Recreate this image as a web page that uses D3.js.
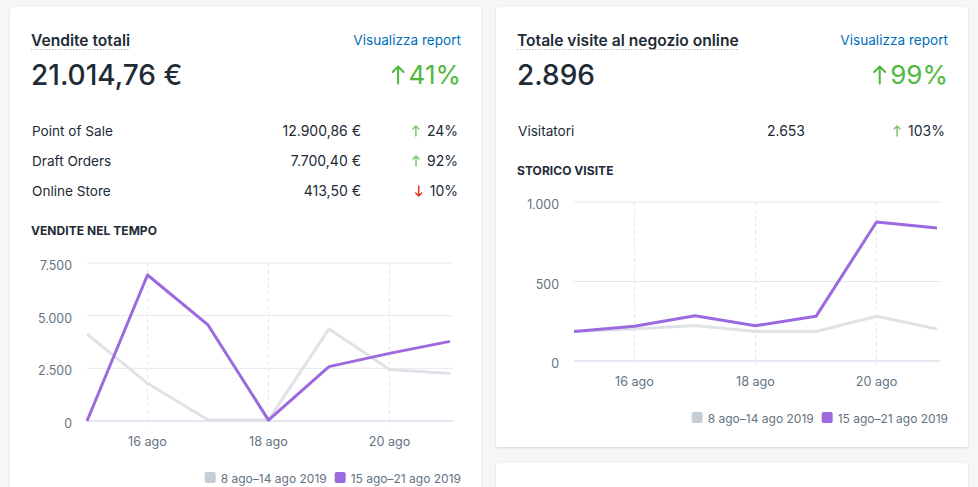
<!DOCTYPE html>
<html><head><meta charset="utf-8">
<script src="https://cdn.jsdelivr.net/npm/d3@7"></script>
<style>
html,body{margin:0;padding:0;background:#f4f6f8;}
svg{display:block;font-family:Inter,"Noto Sans",sans-serif;}
</style></head>
<body>
<svg id="c" width="978" height="487"></svg>
<script>
// ---- data ----
const days = [15, 16, 17, 18, 19, 20, 21];
const tickDays = [16, 18, 20];
const tickLabels = ["16 ago", "18 ago", "20 ago"];
const legendLabels = ["8 ago–14 ago 2019", "15 ago–21 ago 2019"];

const salesPrev = [4130, 1790, 50, 50, 4370, 2450, 2260];
const salesCurr = [0, 6930, 4560, 40, 2580, 3210, 3780];
const salesTicks = [0, 2500, 5000, 7500];

const visitsPrev = [186, 201, 224, 186, 186, 281, 201];
const visitsCurr = [186, 218, 285, 222, 281, 874, 836];
const visitsTicks = [0, 500, 1000];

const salesRows = [
  {label: "Point of Sale", value: "12.900,86 €", change: "24%", up: true},
  {label: "Draft Orders", value: "7.700,40 €", change: "92%", up: true},
  {label: "Online Store", value: "413,50 €", change: "10%", up: false}
];
const visitRows = [
  {label: "Visitatori", value: "2.653", change: "103%", up: true}
];

const it = d3.formatLocale({decimal: ",", thousands: ".", grouping: [3], currency: ["", " €"]});
const fmt = it.format(",d");

const svg = d3.select("#c");
const defs = svg.append("defs");
const f = defs.append("filter").attr("id", "sh").attr("x", "-5%").attr("y", "-5%").attr("width", "110%").attr("height", "110%");
f.append("feDropShadow").attr("dx", 0).attr("dy", 1).attr("stdDeviation", 1.2).attr("flood-color", "#3f3f44").attr("flood-opacity", 0.18);

const C_TEXT = "#212b36", C_SUB = "#637381", C_GREEN = "#50b83c", C_RED = "#de3618",
      C_PURPLE = "#9c6ade", C_GRAY = "#dfe3e8", C_GRID = "#e4e8ee", C_LINK = "#006fbb";

function upArrow(g, x, y, w, h, color, sw) {
  const cx = x + w / 2;
  g.append("path")
    .attr("d", `M${cx},${y + h} L${cx},${y + 1} M${x},${y + w / 2} L${cx},${y} L${x + w},${y + w / 2}`)
    .attr("fill", "none").attr("stroke", color).attr("stroke-width", sw)
    .attr("stroke-linecap", "round").attr("stroke-linejoin", "round");
}
function downArrow(g, x, y, w, h, color, sw) {
  const cx = x + w / 2;
  g.append("path")
    .attr("d", `M${cx},${y} L${cx},${y + h - 1} M${x},${y + h - w / 2} L${cx},${y + h} L${x + w},${y + h - w / 2}`)
    .attr("fill", "none").attr("stroke", color).attr("stroke-width", sw)
    .attr("stroke-linecap", "round").attr("stroke-linejoin", "round");
}

function card(o) {
  const g = svg.append("g");
  g.append("rect").attr("x", o.x).attr("y", o.y).attr("width", o.w).attr("height", o.h)
    .attr("rx", 3).attr("fill", "#fff").attr("filter", "url(#sh)");
  return g;
}

function panel(o) {
  const g = card(o);
  const L = o.x + 21, R = o.x + o.w - 20;
  // title
  const t = g.append("text").attr("x", L).attr("y", 46).attr("font-size", 15.6).attr("font-weight", 600)
    .attr("fill", C_TEXT).text(o.title);
  const tw = t.node().getComputedTextLength();
  g.append("line").attr("x1", L).attr("x2", L + tw).attr("y1", 49.5).attr("y2", 49.5)
    .attr("stroke", "#b5bfca").attr("stroke-width", 1).attr("stroke-dasharray", "1.5,1.5");
  g.append("text").attr("x", R).attr("y", 45).attr("text-anchor", "end").attr("font-size", 13.6)
    .attr("fill", C_LINK).text("Visualizza report");
  // big value
  g.append("text").attr("x", L).attr("y", 85).attr("font-size", 28).attr("font-weight", 500)
    .attr("fill", C_TEXT).text(o.total);
  const bp = g.append("text").attr("x", R).attr("y", 84).attr("text-anchor", "end").attr("font-size", 26)
    .attr("fill", C_GREEN).text(o.totalChange);
  const bpw = bp.node().getComputedTextLength();
  upArrow(g, R - bpw - 16, 66.5, 11, 17, C_GREEN, 2);
  // rows
  o.rows.forEach((r, i) => {
    const y = 136 + i * 30;
    g.append("text").attr("x", L + 1).attr("y", y).attr("font-size", 13.6).attr("fill", C_TEXT).text(r.label);
    g.append("text").attr("x", o.valueX).attr("y", y).attr("text-anchor", "end").attr("font-size", 14).attr("fill", C_TEXT).text(r.value);
    const ct = g.append("text").attr("x", R - 3).attr("y", y).attr("text-anchor", "end").attr("font-size", 14).attr("fill", C_TEXT).text(r.change);
    const cw = ct.node().getComputedTextLength();
    if (r.up) upArrow(g, R - 3 - cw - 14, y - 10, 6, 10, "#7cc66b", 1.5);
    else downArrow(g, R - 3 - cw - 14, y - 10, 6, 10, C_RED, 1.5);
  });
  // section header
  g.append("text").attr("x", L).attr("y", o.secY).attr("font-size", 12).attr("font-weight", 700)
    .attr("letter-spacing", 0.05).attr("fill", C_TEXT).text(o.section);

  // chart
  const x = d3.scaleLinear().domain([days[0], days[days.length - 1]]).range([o.px0, o.px1]);
  const y = d3.scaleLinear().domain([0, o.ticks[o.ticks.length - 1]]).range([o.py0, o.py1]);
  const gx0 = o.px0, gx1 = o.px1 + 3;
  g.append("g").selectAll("line").data(o.ticks.filter(d => d > 0)).join("line")
    .attr("x1", gx0).attr("x2", gx1).attr("y1", d => y(d)).attr("y2", d => y(d))
    .attr("stroke", C_GRID).attr("stroke-width", 1);
  g.append("g").selectAll("line").data(tickDays).join("line")
    .attr("x1", d => x(d)).attr("x2", d => x(d)).attr("y1", y(o.ticks[o.ticks.length - 1])).attr("y2", o.py0 + 4)
    .attr("stroke", C_GRID).attr("stroke-width", 1).attr("stroke-dasharray", "4,3");
  g.append("line").attr("x1", gx0).attr("x2", gx1).attr("y1", y(0)).attr("y2", y(0))
    .attr("stroke", "#c9d1e3").attr("stroke-width", 1);
  g.append("g").selectAll("text").data(o.ticks).join("text")
    .attr("x", o.px0 - 15).attr("y", d => y(d) + 7).attr("text-anchor", "end")
    .attr("font-size", 12.4).attr("fill", C_SUB).text(d => fmt(d));
  g.append("g").selectAll("text").data(tickDays).join("text")
    .attr("x", d => x(d)).attr("y", o.py0 + 25).attr("text-anchor", "middle")
    .attr("font-size", 12.6).attr("fill", C_SUB).text((d, i) => tickLabels[i]);
  const line = d3.line().x((d, i) => x(days[i])).y(d => y(d));
  g.append("path").datum(o.prev).attr("d", line).attr("fill", "none").attr("stroke", C_GRAY)
    .attr("stroke-width", 3).attr("stroke-linejoin", "round");
  g.append("path").datum(o.curr).attr("d", line).attr("fill", "none").attr("stroke", C_PURPLE)
    .attr("stroke-width", 3).attr("stroke-linejoin", "round");
  // legend (right aligned)
  const lg = g.append("g");
  const t2 = lg.append("text").attr("x", R).attr("y", o.legY).attr("text-anchor", "end")
    .attr("font-size", 12).attr("fill", C_SUB).text(legendLabels[1]);
  const w2 = t2.node().getComputedTextLength();
  lg.append("rect").attr("x", R - w2 - 16).attr("y", o.legY - 11).attr("width", 11).attr("height", 11)
    .attr("rx", 2).attr("fill", C_PURPLE);
  const x1end = R - w2 - 24;
  const t1 = lg.append("text").attr("x", x1end).attr("y", o.legY).attr("text-anchor", "end")
    .attr("font-size", 12).attr("fill", C_SUB).text(legendLabels[0]);
  const w1 = t1.node().getComputedTextLength();
  lg.append("rect").attr("x", x1end - w1 - 16).attr("y", o.legY - 11).attr("width", 11).attr("height", 11)
    .attr("rx", 2).attr("fill", "#c4cdd5");
}

panel({
  x: 10, y: 7, w: 471, h: 500,
  title: "Vendite totali", total: "21.014,76 €", totalChange: "41%",
  rows: salesRows, valueX: 361, section: "VENDITE NEL TEMPO", secY: 235,
  ticks: salesTicks, prev: salesPrev, curr: salesCurr,
  px0: 87, px1: 450, py0: 421, py1: 263, legY: 483
});
panel({
  x: 496, y: 7, w: 472, h: 440,
  title: "Totale visite al negozio online", total: "2.896", totalChange: "99%",
  rows: visitRows, valueX: 805, section: "STORICO VISITE", secY: 175,
  ticks: visitsTicks, prev: visitsPrev, curr: visitsCurr,
  px0: 574, px1: 937, py0: 361, py1: 202, legY: 423
});
card({x: 496, y: 463, w: 472, h: 60});
</script>
</body></html>
